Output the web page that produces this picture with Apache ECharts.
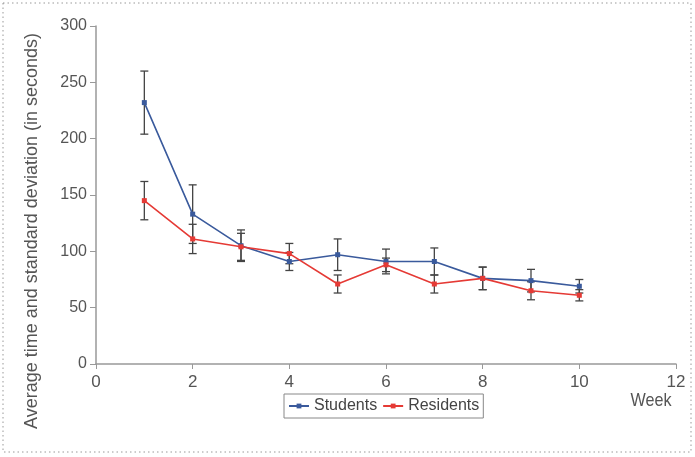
<!DOCTYPE html>
<html><head><meta charset="utf-8">
<script src="https://cdn.jsdelivr.net/npm/echarts@6/dist/echarts.min.js"></script>
<style>html,body{margin:0;padding:0;background:#fff}#c{width:695px;height:457px}</style>
</head><body><div id="c"></div>
<script>
const weeks = [1,2,3,4,5,6,7,8,9,10];
const studentsMean = [232,133,105,91,97,91,91,76,74,69];
const studentsSD   = [28,26,14,8,14,11,12,10,10,6];
const residentsMean = [145,111,104,98,71,88,71,76,65,61];
const residentsSD   = [17,13,12,9,8,6,8,10,8,5];
const xTicks = [0,2,4,6,8,10,12];
const yTicks = [0,50,100,150,200,250,300];
const yTitle = 'Average time and standard deviation (in seconds)';
const xTitle = 'Week';

const blue = '#3a5a9c', red = '#e53a35';
const font = '"Liberation Sans", Arial, sans-serif';

function errData(mean, sd){ return weeks.map((w,i)=>[w, mean[i]-sd[i], mean[i]+sd[i]]); }
function errRender(params, api){
  const x = api.value(0);
  const lo = api.coord([x, api.value(1)]);
  const hi = api.coord([x, api.value(2)]);
  const hw = 4;
  const st = {stroke:'#444', lineWidth:1.3};
  return {type:'group', children:[
    {type:'line', shape:{x1:lo[0],y1:lo[1],x2:hi[0],y2:hi[1]}, style:st},
    {type:'line', shape:{x1:lo[0]-hw,y1:lo[1],x2:lo[0]+hw,y2:lo[1]}, style:st},
    {type:'line', shape:{x1:hi[0]-hw,y1:hi[1],x2:hi[0]+hw,y2:hi[1]}, style:st}
  ]};
}

const chart = echarts.init(document.getElementById('c'), null, {renderer:'canvas'});
chart.setOption({
  animation:false,
  textStyle:{fontFamily:font},
  grid:{left:96, right:19, top:26, bottom:93, containLabel:false},
  graphic:[
    {type:'rect', shape:{x:3,y:3,width:688,height:449}, style:{fill:'none', stroke:'#999', lineWidth:1, lineDash:[1.5,3]}, silent:true},
    {type:'text', x:651, y:401, scaleX:0.85, style:{text:xTitle, fill:'#555', font:'19px '+font, align:'center', verticalAlign:'middle'}},
    {type:'text', x:32, y:231, rotation:Math.PI/2, style:{text:yTitle, fill:'#555', font:'18px '+font, align:'center', verticalAlign:'middle'}}
  ],
  xAxis:{type:'value', min:0, max:12, interval:2,
    axisLine:{lineStyle:{color:'#999', width:1.5}},
    axisTick:{show:true, length:5, lineStyle:{color:'#999'}},
    axisLabel:{color:'#555', fontSize:17, margin:10, formatter:v=>xTicks.includes(v)?String(v):''},
    splitLine:{show:false}},
  yAxis:{type:'value', min:0, max:300, interval:50,
    axisLine:{show:true, lineStyle:{color:'#999', width:1.5}},
    axisTick:{show:true, length:6, lineStyle:{color:'#999'}},
    axisLabel:{color:'#555', fontSize:16, margin:9, formatter:v=>yTicks.includes(v)?String(v):''},
    splitLine:{show:false}},
  legend:{left:284, top:394, orient:'horizontal', data:['Students','Residents'],
    borderColor:'#888', borderWidth:1, padding:[4,4,4,4], itemGap:5, itemWidth:20, itemHeight:6,
    textStyle:{color:'#444', fontSize:16}},
  series:[
    {type:'custom', name:'sErr', renderItem:errRender, data:errData(studentsMean, studentsSD), z:3, silent:true},
    {type:'custom', name:'rErr', renderItem:errRender, data:errData(residentsMean, residentsSD), z:3, silent:true},
    {type:'line', name:'Students', data:weeks.map((w,i)=>[w,studentsMean[i]]), color:blue,
      lineStyle:{width:1.6}, symbol:'rect', symbolSize:5, itemStyle:{color:blue}, z:4},
    {type:'line', name:'Residents', data:weeks.map((w,i)=>[w,residentsMean[i]]), color:red,
      lineStyle:{width:1.6}, symbol:'rect', symbolSize:5, itemStyle:{color:red}, z:5}
  ]
});
</script></body></html>
